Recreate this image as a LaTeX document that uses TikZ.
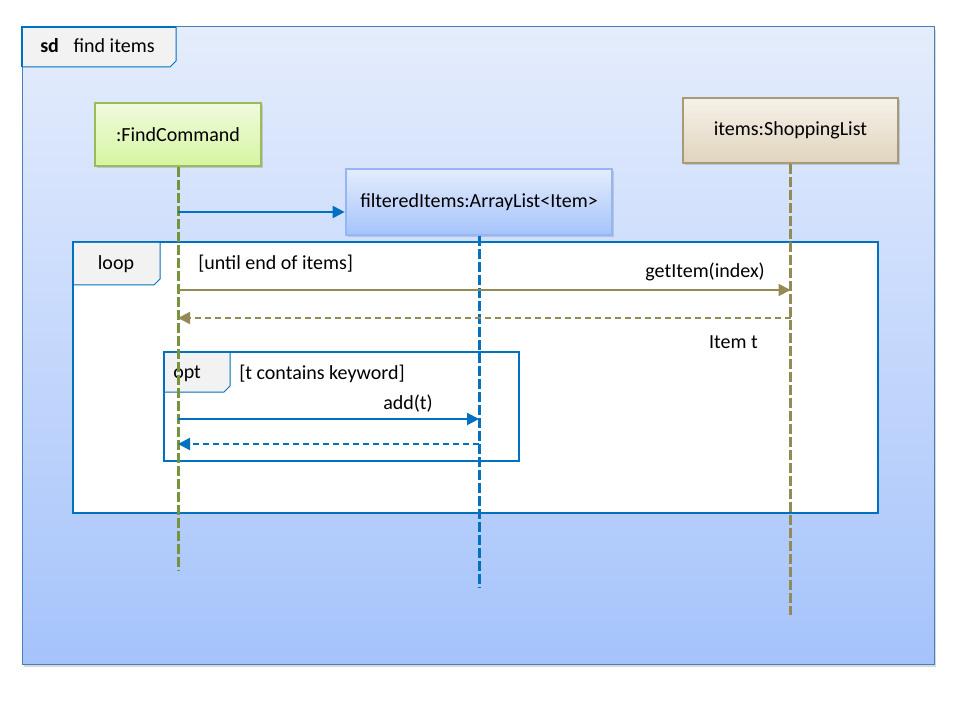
\documentclass[tikz,border=0pt]{standalone}
\usepackage{fontspec}
\setmainfont{Carlito}
\usetikzlibrary{arrows.meta,shadows}
\definecolor{umlblue}{HTML}{0070C0}
\definecolor{frameedge}{HTML}{4A7EBB}
\definecolor{tabgray}{HTML}{F2F2F2}
\definecolor{fcline}{HTML}{77933C}
\definecolor{fcedge}{HTML}{9BBB59}
\definecolor{fiedge}{HTML}{95B6F2}
\definecolor{sledge}{HTML}{A89A76}
\definecolor{olive}{HTML}{948A54}
\begin{document}
\begin{tikzpicture}[x=0.75pt,y=-0.75pt,font=\fontsize{15}{18}\selectfont,
    lbl/.style={inner sep=0pt},
    lifebox/.style={draw,line width=1.5pt,drop shadow={shadow xshift=1.5pt,shadow yshift=-1.5pt,opacity=0.3}},
    tabline/.style={draw=umlblue,line width=0.75pt},
    fragment/.style={draw=umlblue,line width=1.5pt},
    life/.style={line width=2.25pt,dash pattern=on 7.5pt off 2.25pt},
    msg/.style={line width=1.5pt,-{Triangle[length=9pt,width=9pt]}},
    reply/.style={msg,dash pattern=on 4.5pt off 3pt}]

      \useasboundingbox (0,0) rectangle (960,720);

      % sd frame
      \shade[top color={rgb,255:red,229;green,237;blue,252},bottom color={rgb,255:red,165;green,195;blue,251},drop shadow={shadow xshift=1.5pt,shadow yshift=-2pt,opacity=0.3}] (22,27) rectangle (934,664);
      \draw[draw=frameedge,line width=0.75pt] (22,27) rectangle (934,664);
      \fill[tabgray] (22,27) -- (176,27) -- (176,61) -- (170,67) -- (22,67) -- cycle;
      \draw[tabline] (176,27) -- (176,61) -- (170,67) -- (22,67);
      \draw[draw=umlblue,line width=1.5pt] (22,67) -- (22,27) -- (176,27);
      \node[lbl,anchor=west] (sdname) at (40,46) {\textbf{sd}\hspace{11pt}find items};

      % lifeline heads
      \node[lifebox,draw=fcedge,top color={rgb,255:red,240;green,250;blue,222},bottom color={rgb,255:red,214;green,245;blue,160},minimum width=125pt,minimum height=47pt] (fc) at (178,134.5) {:FindCommand};
      \node[lifebox,draw=fiedge,top color={rgb,255:red,228;green,237;blue,253},bottom color={rgb,255:red,165;green,195;blue,251},minimum width=200pt,minimum height=49.5pt] (fi) at (479,202) {filteredItems:ArrayList<Item>};
      \node[lifebox,draw=sledge,top color={rgb,255:red,246;green,241;blue,233},bottom color={rgb,255:red,224;green,212;blue,189},minimum width=161pt,minimum height=48.75pt] (sl) at (790.5,130.5) {items:ShoppingList};

      % loop fragment
      \draw[fragment,fill=white] (73,242) rectangle (878,513);
      \fill[tabgray] (74,243) -- (160,243) -- (160,279) -- (154,285) -- (74,285) -- cycle;
      \draw[tabline] (160,242) -- (160,279) -- (154,285) -- (73,285);
      \node[lbl] (looptag) at (116,264) {loop};
      \node[lbl,anchor=west] (loopguard) at (198,264) {[until end of items]};

      % opt fragment
      \draw[fragment] (164,352) rectangle (519,461);
      \fill[tabgray] (165,353) -- (230,353) -- (230,386) -- (224,392) -- (165,392) -- cycle;
      \draw[tabline] (230,352) -- (230,386) -- (224,392) -- (164,392);
      \node[lbl,anchor=west] (opttag) at (173,374) {opt};
      \node[lbl,anchor=west] (optguard) at (239,374) {[t contains keyword]};

      % lifelines
      \foreach \n/\c/\e in {fc/fcline/570,fi/umlblue/588,sl/olive/615}
      \draw[life,\c] (\n.south) -- (\n.south |- 0,\e);

      % messages
      \draw[msg,umlblue] (fc.south |- 0,212) -- (fi.west |- 0,212); % create
      \draw[msg,olive] (fc.south |- 0,290) -- (sl.south |- 0,290);
      \node[lbl,anchor=east] (getlbl) at (765,272) {getItem(index)};
      \draw[reply,olive] (sl.south |- 0,318) -- (fc.south |- 0,318);
      \node[lbl,anchor=east] (retlbl) at (758,342) {Item t};
      \draw[msg,umlblue] (fc.south |- 0,419) -- (fi.south |- 0,419);
      \node[lbl,anchor=east] (addlbl) at (433,404) {add(t)};
      \draw[reply,umlblue] (fi.south |- 0,444) -- (fc.south |- 0,444);

\end{tikzpicture}
\end{document}
